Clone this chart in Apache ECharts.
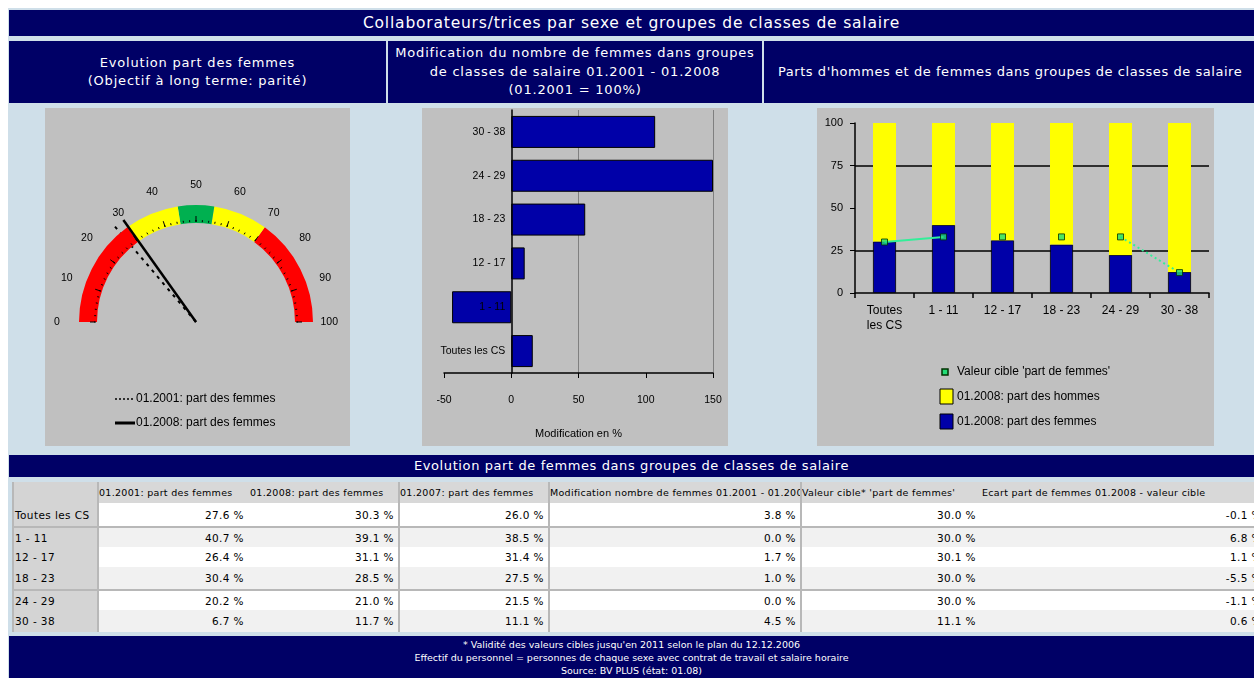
<!DOCTYPE html>
<html><head><meta charset="utf-8">
<script src="https://cdn.jsdelivr.net/npm/echarts@6/dist/echarts.min.js"></script>
<style>
html,body{margin:0;padding:0;width:1254px;height:678px;overflow:hidden;background:#fff;font-family:"DejaVu Sans",sans-serif;}
.abs{position:absolute;box-sizing:border-box;}
.navy{background:#000066;color:#fff;}
.hdr{display:flex;align-items:center;justify-content:center;text-align:center;font-size:13px;letter-spacing:0.8px;line-height:18.5px;white-space:nowrap;overflow:hidden;}
.panel{background:#c0c0c0;}
.cell{position:absolute;box-sizing:border-box;font-size:10.5px;letter-spacing:0.4px;white-space:nowrap;overflow:hidden;color:#000;padding:0 4px;display:flex;align-items:center;}
</style></head><body>
<div class="abs" style="left:8px;top:8px;width:1246px;height:670px;background:#cfdfe9"></div>
<div id="title" class="abs navy hdr" style="left:9px;top:10px;width:1245px;height:26px;font-size:15.5px;"></div>
<div id="h1" class="abs navy hdr" style="left:9px;top:41px;width:377px;height:62px;"></div>
<div id="h2" class="abs navy hdr" style="left:388px;top:41px;width:374px;height:62px;"></div>
<div id="h3" class="abs navy hdr" style="left:764px;top:41px;width:490px;height:62px;justify-content:flex-start;padding-left:14px;letter-spacing:0.55px;"></div>
<div id="gauge" class="abs panel" style="left:45px;top:108px;width:305px;height:338px;"></div>
<div id="bars" class="abs panel" style="left:422px;top:108px;width:306px;height:338px;"></div>
<div id="stack" class="abs panel" style="left:817px;top:108px;width:397px;height:338px;"></div>
<div id="ttitle" class="abs navy hdr" style="left:9px;top:455px;width:1245px;height:22px;letter-spacing:0.6px;"></div>
<div id="table" class="abs" style="left:12px;top:482px;width:1242px;height:150px;background:#fff;"></div>
<div id="footer" class="abs navy" style="left:9px;top:636px;width:1245px;height:42px;font-size:9.5px;line-height:13px;text-align:center;padding-top:2px;"></div>
<script>
// ---------- texts ----------
const pageTitle = "Collaborateurs/trices par sexe et groupes de classes de salaire";
const head1 = ["Evolution part des femmes", "(Objectif à long terme: parité)"];
const head2 = ["Modification du nombre de femmes dans groupes", "de classes de salaire 01.2001 - 01.2008", "(01.2001 = 100%)"];
const head3 = ["Parts d'hommes et de femmes dans groupes de classes de salaire"];
const tableTitle = "Evolution part de femmes dans groupes de classes de salaire";
const footerLines = ["* Validité des valeurs cibles jusqu'en 2011 selon le plan du 12.12.2006",
  "Effectif du personnel = personnes de chaque sexe avec contrat de travail et salaire horaire",
  "Source: BV PLUS (état: 01.08)"];

// ---------- gauge data ----------
const gaugeName2001 = "01.2001: part des femmes";
const gaugeName2008 = "01.2008: part des femmes";
const part2001 = 27.6;
const part2008 = 30.3;
const gaugeBandStops = [30, 45, 55, 70, 100];

// ---------- bar data ----------
const categories = ["Toutes les CS", "1 - 11", "12 - 17", "18 - 23", "24 - 29", "30 - 38"];
const modification = [16, -44, 10, 55, 150, 107];
const barAxisName = "Modification en %";
const barMin = -50, barMax = 150;

// ---------- stacked data ----------
const stackCategories = ["Toutes\nles CS", "1 - 11", "12 - 17", "18 - 23", "24 - 29", "30 - 38"];
const partFemmes2008 = [30.3, 40.0, 31.0, 28.5, 22.4, 12.4];
const partHommes2008 = [69.7, 60.0, 69.0, 71.5, 77.6, 87.6];
const valeurCible = [30, 33, 33, 33, 33, 12];
const nameCible = "Valeur cible 'part de femmes'";
const nameHommes = "01.2008: part des hommes";
const nameFemmes = "01.2008: part des femmes";

// ---------- table data ----------
const tableHeaders = ["01.2001: part des femmes", "01.2008: part des femmes", "01.2007: part des femmes",
  "Modification nombre de femmes 01.2001 - 01.2008", "Valeur cible* 'part de femmes'", "Ecart part de femmes 01.2008 - valeur cible"];
const colA = ["27.6 %", "40.7 %", "26.4 %", "30.4 %", "20.2 %", "6.7 %"];
const colB = ["30.3 %", "39.1 %", "31.1 %", "28.5 %", "21.0 %", "11.7 %"];
const colC = ["26.0 %", "38.5 %", "31.4 %", "27.5 %", "21.5 %", "11.1 %"];
const colD = ["3.8 %", "0.0 %", "1.7 %", "1.0 %", "0.0 %", "4.5 %"];
const colE = ["30.0 %", "30.0 %", "30.1 %", "30.0 %", "30.0 %", "11.1 %"];
const colF = ["-0.1 %", "6.8 %", "1.1 %", "-5.5 %", "-1.1 %", "0.6 %"];

// ---------- html texts ----------
document.getElementById('title').textContent = pageTitle;
document.getElementById('h1').innerHTML = head1.join('<br>');
document.getElementById('h2').innerHTML = head2.join('<br>');
document.getElementById('h3').innerHTML = head3.join('<br>');
document.getElementById('ttitle').textContent = tableTitle;
document.getElementById('footer').innerHTML = footerLines.join('<br>');

// ---------- table ----------
(function(){
  const t = document.getElementById('table');
  const colX = [0, 85, 236, 386, 536, 788, 968, 1250]; // relative to table left (12)
  const rows = [[21,44],[46,65],[65,85],[85,107],[109,128],[128,150]];
  const cols = [colA, colB, colC, colD, colE, colF];
  const rowBg = ['#ffffff','#f1f1f1','#ffffff','#f1f1f1','#ffffff','#f1f1f1'];
  function add(x,y,w,h,bg,txt,align,extra){
    const d=document.createElement('div'); d.className='cell';
    d.style.left=x+'px'; d.style.top=y+'px'; d.style.width=w+'px'; d.style.height=h+'px';
    d.style.background=bg; d.style.justifyContent=align; if(extra) d.style.cssText+=extra;
    d.textContent=txt; t.appendChild(d);
  }
  add(0,0,colX[7],21,'#d8d8d8','', 'flex-start');
  add(0,0,85,150,'#d4d4d4','', 'flex-start');
  for(let c=0;c<6;c++) add(colX[c+1],0,colX[c+2]-colX[c+1],21,'transparent',tableHeaders[c],'flex-start','padding-left:2px;padding-right:0;font-size:9.5px;letter-spacing:0.3px;');
  rows.forEach((r,i)=>{
    add(0,r[0],85,r[1]-r[0],'#d4d4d4',categories[i],'flex-start','padding-left:3px;');
    add(85,r[0],colX[7]-85,r[1]-r[0],rowBg[i],'', 'flex-start');
    for(let c=0;c<6;c++) add(colX[c+1],r[0],colX[c+2]-colX[c+1],r[1]-r[0],'transparent',cols[c][i],'flex-end', c===5?'padding-right:0;overflow:visible;':'');
  });
  function line(x,y,w,h,col){const d=document.createElement('div');d.className='abs';d.style.cssText+=`left:${x}px;top:${y}px;width:${w}px;height:${h}px;background:${col}`;t.appendChild(d);}
  line(0,0,2,150,'#b8b8b8');
  [85,386,536,788].forEach(x=>line(x,0,2,150,'#b8b8b8'));
  line(0,44,colX[7],2,'#b8b8b8'); line(0,107,colX[7],2,'#b8b8b8');
})();

// ---------- gauge ----------
const gChart = echarts.init(document.getElementById('gauge'));
const bandColors = ['#ff0000','#ffff00','#00b050','#ffff00','#ff0000'];
let dots = ''; for (let i = 0; i < 16; i++) dots += 'M0,' + (i*5) + 'h1v2h-1z ';
gChart.setOption({
  animation:false,
  series:[{
    type:'gauge', center:[151,214], radius:117, startAngle:180, endAngle:0, min:0, max:100, splitNumber:10,
    axisLine:{lineStyle:{width:18, color: gaugeBandStops.map((s,i)=>[s/100, bandColors[i]])}},
    splitLine:{length:5, distance:-7, lineStyle:{color:'#000', width:1}},
    axisTick:{splitNumber:5, length:2, distance:-3, lineStyle:{color:'#000', width:1}},
    axisLabel:{distance:-23, color:'#000', fontSize:10.5, fontFamily:'Liberation Sans'},
    pointer:{icon:'rect', length:'107%', width:2.5, offsetCenter:[0,0], itemStyle:{color:'#000'}},
    anchor:{show:false}, title:{show:false}, detail:{show:false},
    data:[{value:part2008, name:gaugeName2008}], z:3
  },{
    type:'gauge', center:[151,214], radius:117, startAngle:180, endAngle:0, min:0, max:100,
    axisLine:{show:false}, splitLine:{show:false}, axisTick:{show:false}, axisLabel:{show:false},
    pointer:{icon:'path://'+dots, length:'107%', width:2, offsetCenter:[0,0], itemStyle:{color:'#000'}},
    anchor:{show:false}, title:{show:false}, detail:{show:false},
    data:[{value:part2001, name:gaugeName2001}], z:2
  }],
  graphic:[
    {type:'line', shape:{x1:70,y1:291,x2:90,y2:291}, style:{stroke:'#000', lineWidth:1.5, lineDash:[2,2]}},
    {type:'text', x:91, y:291, style:{text:gaugeName2001, fill:'#000', font:'12px "Liberation Sans"', verticalAlign:'middle'}},
    {type:'line', shape:{x1:70,y1:315,x2:90,y2:315}, style:{stroke:'#000', lineWidth:3}},
    {type:'text', x:91, y:315, style:{text:gaugeName2008, fill:'#000', font:'12px "Liberation Sans"', verticalAlign:'middle'}}
  ]
});

// ---------- horizontal bars ----------
const bChart = echarts.init(document.getElementById('bars'));
const barGrid = {left:22, right:15, top:2, bottom:73};
const barPlotW = 306 - barGrid.left - barGrid.right;
bChart.setOption({
  animation:false,
  grid:Object.assign({outerBoundsMode:'none', containLabel:false}, barGrid),
  xAxis:{type:'value', min:barMin, max:barMax, interval:50,
    name:barAxisName, nameLocation:'middle', nameGap:55, nameTextStyle:{color:'#000', fontSize:11, fontFamily:'Liberation Sans'},
    axisLine:{show:true, onZero:false, lineStyle:{color:'#000', width:1.5}},
    axisTick:{show:true, length:5, lineStyle:{color:'#000'}},
    axisLabel:{color:'#000', fontSize:10.5, margin:22, fontFamily:'Liberation Sans'},
    splitLine:{show:true, lineStyle:{color:['transparent','transparent','#808080','transparent','#808080'], width:1}}},
  yAxis:{type:'category', data:categories, position:'left', z:5,
    offset: -barPlotW * (0 - barMin) / (barMax - barMin),
    axisLine:{show:true, onZero:false, lineStyle:{color:'#000', width:1.5}},
    axisTick:{show:false},
    axisLabel:{color:'#000', fontSize:10.5, margin:6, fontFamily:'Liberation Sans'}},
  series:[{type:'bar', data:modification, barWidth:32, z:2,
    itemStyle:{color:'#0000a8', borderColor:'#000', borderWidth:1}}]
});

// ---------- stacked ----------
const sChart = echarts.init(document.getElementById('stack'));
sChart.setOption({
  animation:false,
  grid:{left:38, right:5, top:15, bottom:153, outerBoundsMode:'none', containLabel:false},
  xAxis:{type:'category', data:stackCategories,
    axisLine:{lineStyle:{color:'#000', width:1.5}},
    axisTick:{show:true, length:5, lineStyle:{color:'#000', width:1.5}},
    axisLabel:{color:'#000', fontSize:12, margin:10, lineHeight:15, fontFamily:'Liberation Sans', interval:0}},
  yAxis:{type:'value', min:0, max:100, interval:25,
    axisLine:{show:true, lineStyle:{color:'#000', width:1.5}},
    axisTick:{show:true, length:5, lineStyle:{color:'#000'}},
    axisLabel:{color:'#000', fontSize:11, margin:12, fontFamily:'Liberation Sans'},
    splitLine:{show:true, lineStyle:{color:['transparent','#000','transparent','#000','transparent'], width:1.5}}},
  series:[
    {name:nameFemmes, type:'bar', stack:'s', data:partFemmes2008, barWidth:23,
      itemStyle:{color:'#0000a8', borderColor:'#000', borderWidth:0.8}},
    {name:nameHommes, type:'bar', stack:'s', data:partHommes2008, barWidth:23,
      itemStyle:{color:'#ffff00'}},
    {name:nameCible+' a', type:'line', data:valeurCible.map((v,i)=>i<=1?v:'-'), symbol:'none',
      lineStyle:{color:'#33ee99', width:2}, z:5},
    {name:nameCible+' b', type:'line', data:valeurCible.map((v,i)=>i>=4?v:'-'), symbol:'none',
      lineStyle:{color:'#33ee99', width:2, type:[2,3]}, z:5},
    {name:nameCible, type:'scatter', data:valeurCible, symbol:'rect', symbolSize:6,
      itemStyle:{color:'#22dd77', borderColor:'#003300', borderWidth:1}, z:6}
  ],
  graphic:[
    {type:'rect', shape:{x:125,y:261,width:6,height:6}, style:{fill:'#22dd77', stroke:'#003300', lineWidth:1.5}},
    {type:'text', x:140, y:264, style:{text:nameCible, fill:'#000', font:'12px "Liberation Sans"', verticalAlign:'middle'}},
    {type:'rect', shape:{x:123,y:281,width:13,height:15}, style:{fill:'#ffff00', stroke:'#000', lineWidth:1}},
    {type:'text', x:140, y:289, style:{text:nameHommes, fill:'#000', font:'12px "Liberation Sans"', verticalAlign:'middle'}},
    {type:'rect', shape:{x:123,y:306,width:13,height:15}, style:{fill:'#0000a8', stroke:'#000', lineWidth:1}},
    {type:'text', x:140, y:314, style:{text:nameFemmes, fill:'#000', font:'12px "Liberation Sans"', verticalAlign:'middle'}}
  ]
});
</script>
</body></html>
